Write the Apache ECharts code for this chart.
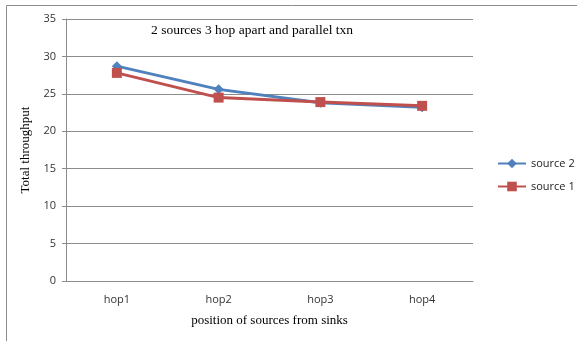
<!DOCTYPE html>
<html>
<head>
<meta charset="utf-8">
<script src="https://cdn.jsdelivr.net/npm/echarts@6/dist/echarts.min.js"></script>
<style>
html,body{margin:0;padding:0;background:#fff;}
#chart{width:577px;height:341px;}
</style>
</head>
<body>
<div id="chart"></div>
<script>
// Throughput of two sources placed at increasing hop distances from the sinks
const categories = ['hop1', 'hop2', 'hop3', 'hop4'];
const source2 = [28.7, 25.6, 23.8, 23.2];
const source1 = [27.8, 24.5, 23.9, 23.4];
const yTicks = { min: 0, max: 35, interval: 5 };

const chart = echarts.init(document.getElementById('chart'));
const serif = '"Liberation Serif", "DejaVu Serif", serif';
const sans = '"Open Sans", "DejaVu Sans", sans-serif';

chart.setOption({
  animation: false,
  backgroundColor: '#fff',
  graphic: [{
    type: 'rect',
    shape: { x: 6.5, y: 5.5, width: 580, height: 350 },
    style: { fill: 'none', stroke: '#8c8c8c', lineWidth: 1 },
    silent: true
  }],
  title: {
    text: '2 sources 3 hop apart and parallel txn',
    left: 146, top: 18,
    textStyle: { fontFamily: serif, fontSize: 13.5, fontWeight: 'normal', color: '#000' }
  },
  legend: {
    orient: 'vertical',
    left: 492, top: 153,
    itemWidth: 28, itemHeight: 12, itemGap: 12,
    textStyle: { fontFamily: sans, fontSize: 11, color: '#222' },
    data: ['source 2', 'source 1']
  },
  grid: { left: 66, right: 104, top: 19, bottom: 60 },
  xAxis: {
    type: 'category',
    data: categories,
    boundaryGap: true,
    name: 'position of sources from sinks',
    nameLocation: 'middle',
    nameGap: 33,
    nameTextStyle: { fontFamily: serif, fontSize: 13, color: '#000' },
    axisLine: { lineStyle: { color: '#8c8c8c' } },
    axisTick: { length: 5, lineStyle: { color: '#8c8c8c' } },
    axisLabel: { fontFamily: sans, fontSize: 11, color: '#333', margin: 13 }
  },
  yAxis: {
    type: 'value',
    min: yTicks.min, max: yTicks.max, interval: yTicks.interval,
    name: 'Total throughput',
    nameLocation: 'middle',
    nameRotate: 90,
    nameGap: 30,
    nameTextStyle: { fontFamily: serif, fontSize: 13, color: '#000' },
    axisLine: { show: true, lineStyle: { color: '#8c8c8c' } },
    axisTick: { show: true, length: 4, lineStyle: { color: '#8c8c8c' } },
    axisLabel: { fontFamily: sans, fontSize: 11, color: '#333', margin: 10 },
    splitLine: { lineStyle: { color: '#8c8c8c', width: 1 } }
  },
  series: [
    {
      name: 'source 2', type: 'line', data: source2,
      symbol: 'diamond', symbolSize: 10,
      lineStyle: { color: '#4F81BD', width: 3 },
      itemStyle: { color: '#4F81BD' }
    },
    {
      name: 'source 1', type: 'line', data: source1,
      symbol: 'rect', symbolSize: 10,
      lineStyle: { color: '#C0504D', width: 3 },
      itemStyle: { color: '#C0504D' }
    }
  ]
});
</script>
</body>
</html>
